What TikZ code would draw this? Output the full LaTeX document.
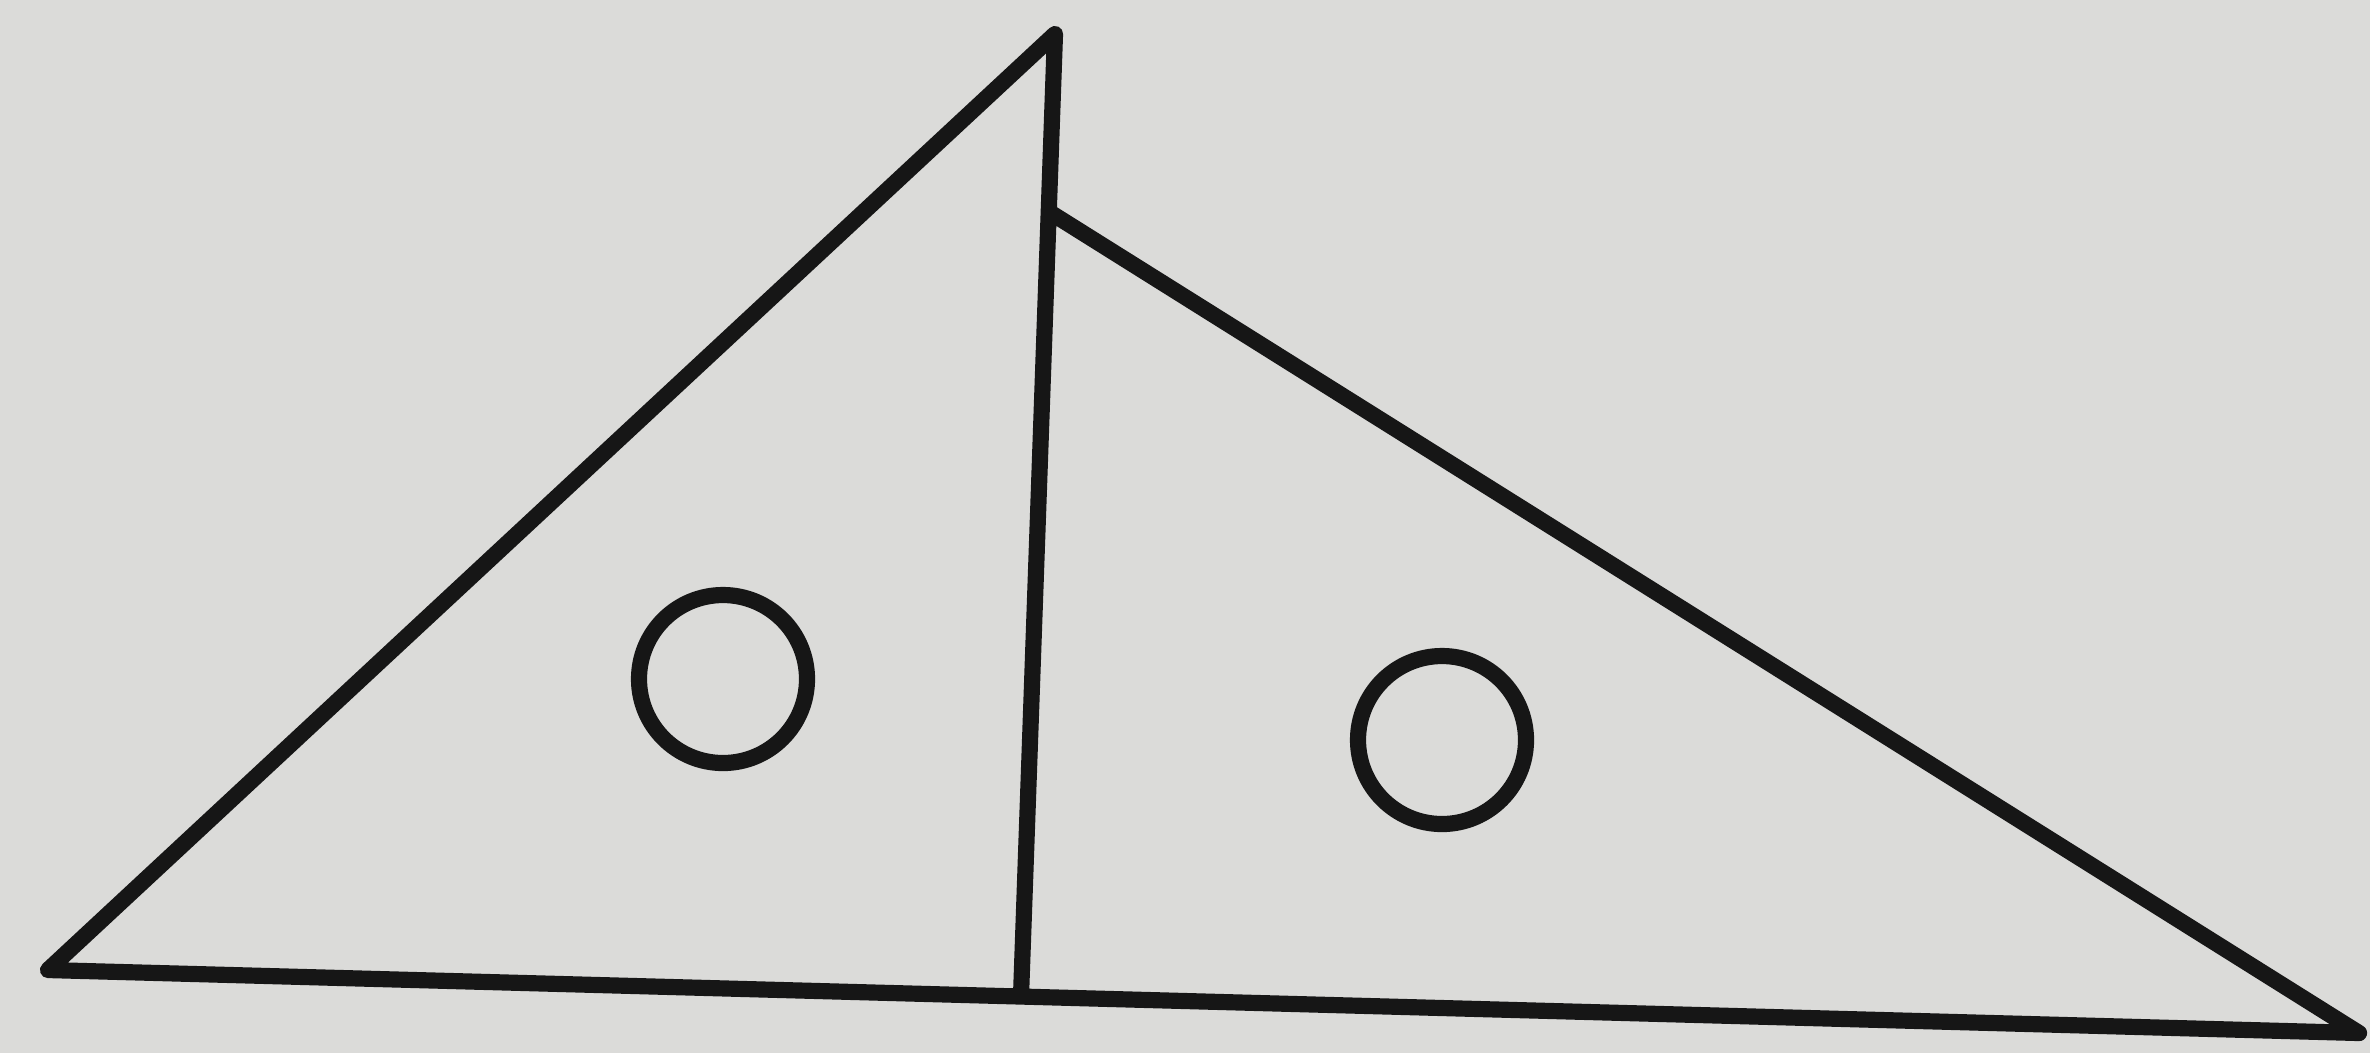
\documentclass[tikz,border=0pt]{standalone}
\definecolor{paper}{RGB}{219,219,217}
\definecolor{ink}{RGB}{22,22,22}
\begin{document}
\begin{tikzpicture}[x=0.01cm,y=-0.01cm,
  edge/.style={draw=ink,line width=4.6pt,line join=round,line cap=round},
  hole/.style={draw=ink,line width=4.6pt}]
\fill[paper] (0,0) rectangle (2370,1053);
\useasboundingbox (0,0) rectangle (2370,1053);
\coordinate (A) at (1055,34);
\coordinate (L) at (48,970);
\coordinate (R) at (2359,1033);
\coordinate (T) at (1051,213);
\coordinate (F) at (1021,996);
\draw[edge] (F) -- (A) -- (L) -- (R) -- (T);
\draw[hole] (723,679) circle (84);
\draw[hole] (1442,740) circle (84);
\end{tikzpicture}
\end{document}
